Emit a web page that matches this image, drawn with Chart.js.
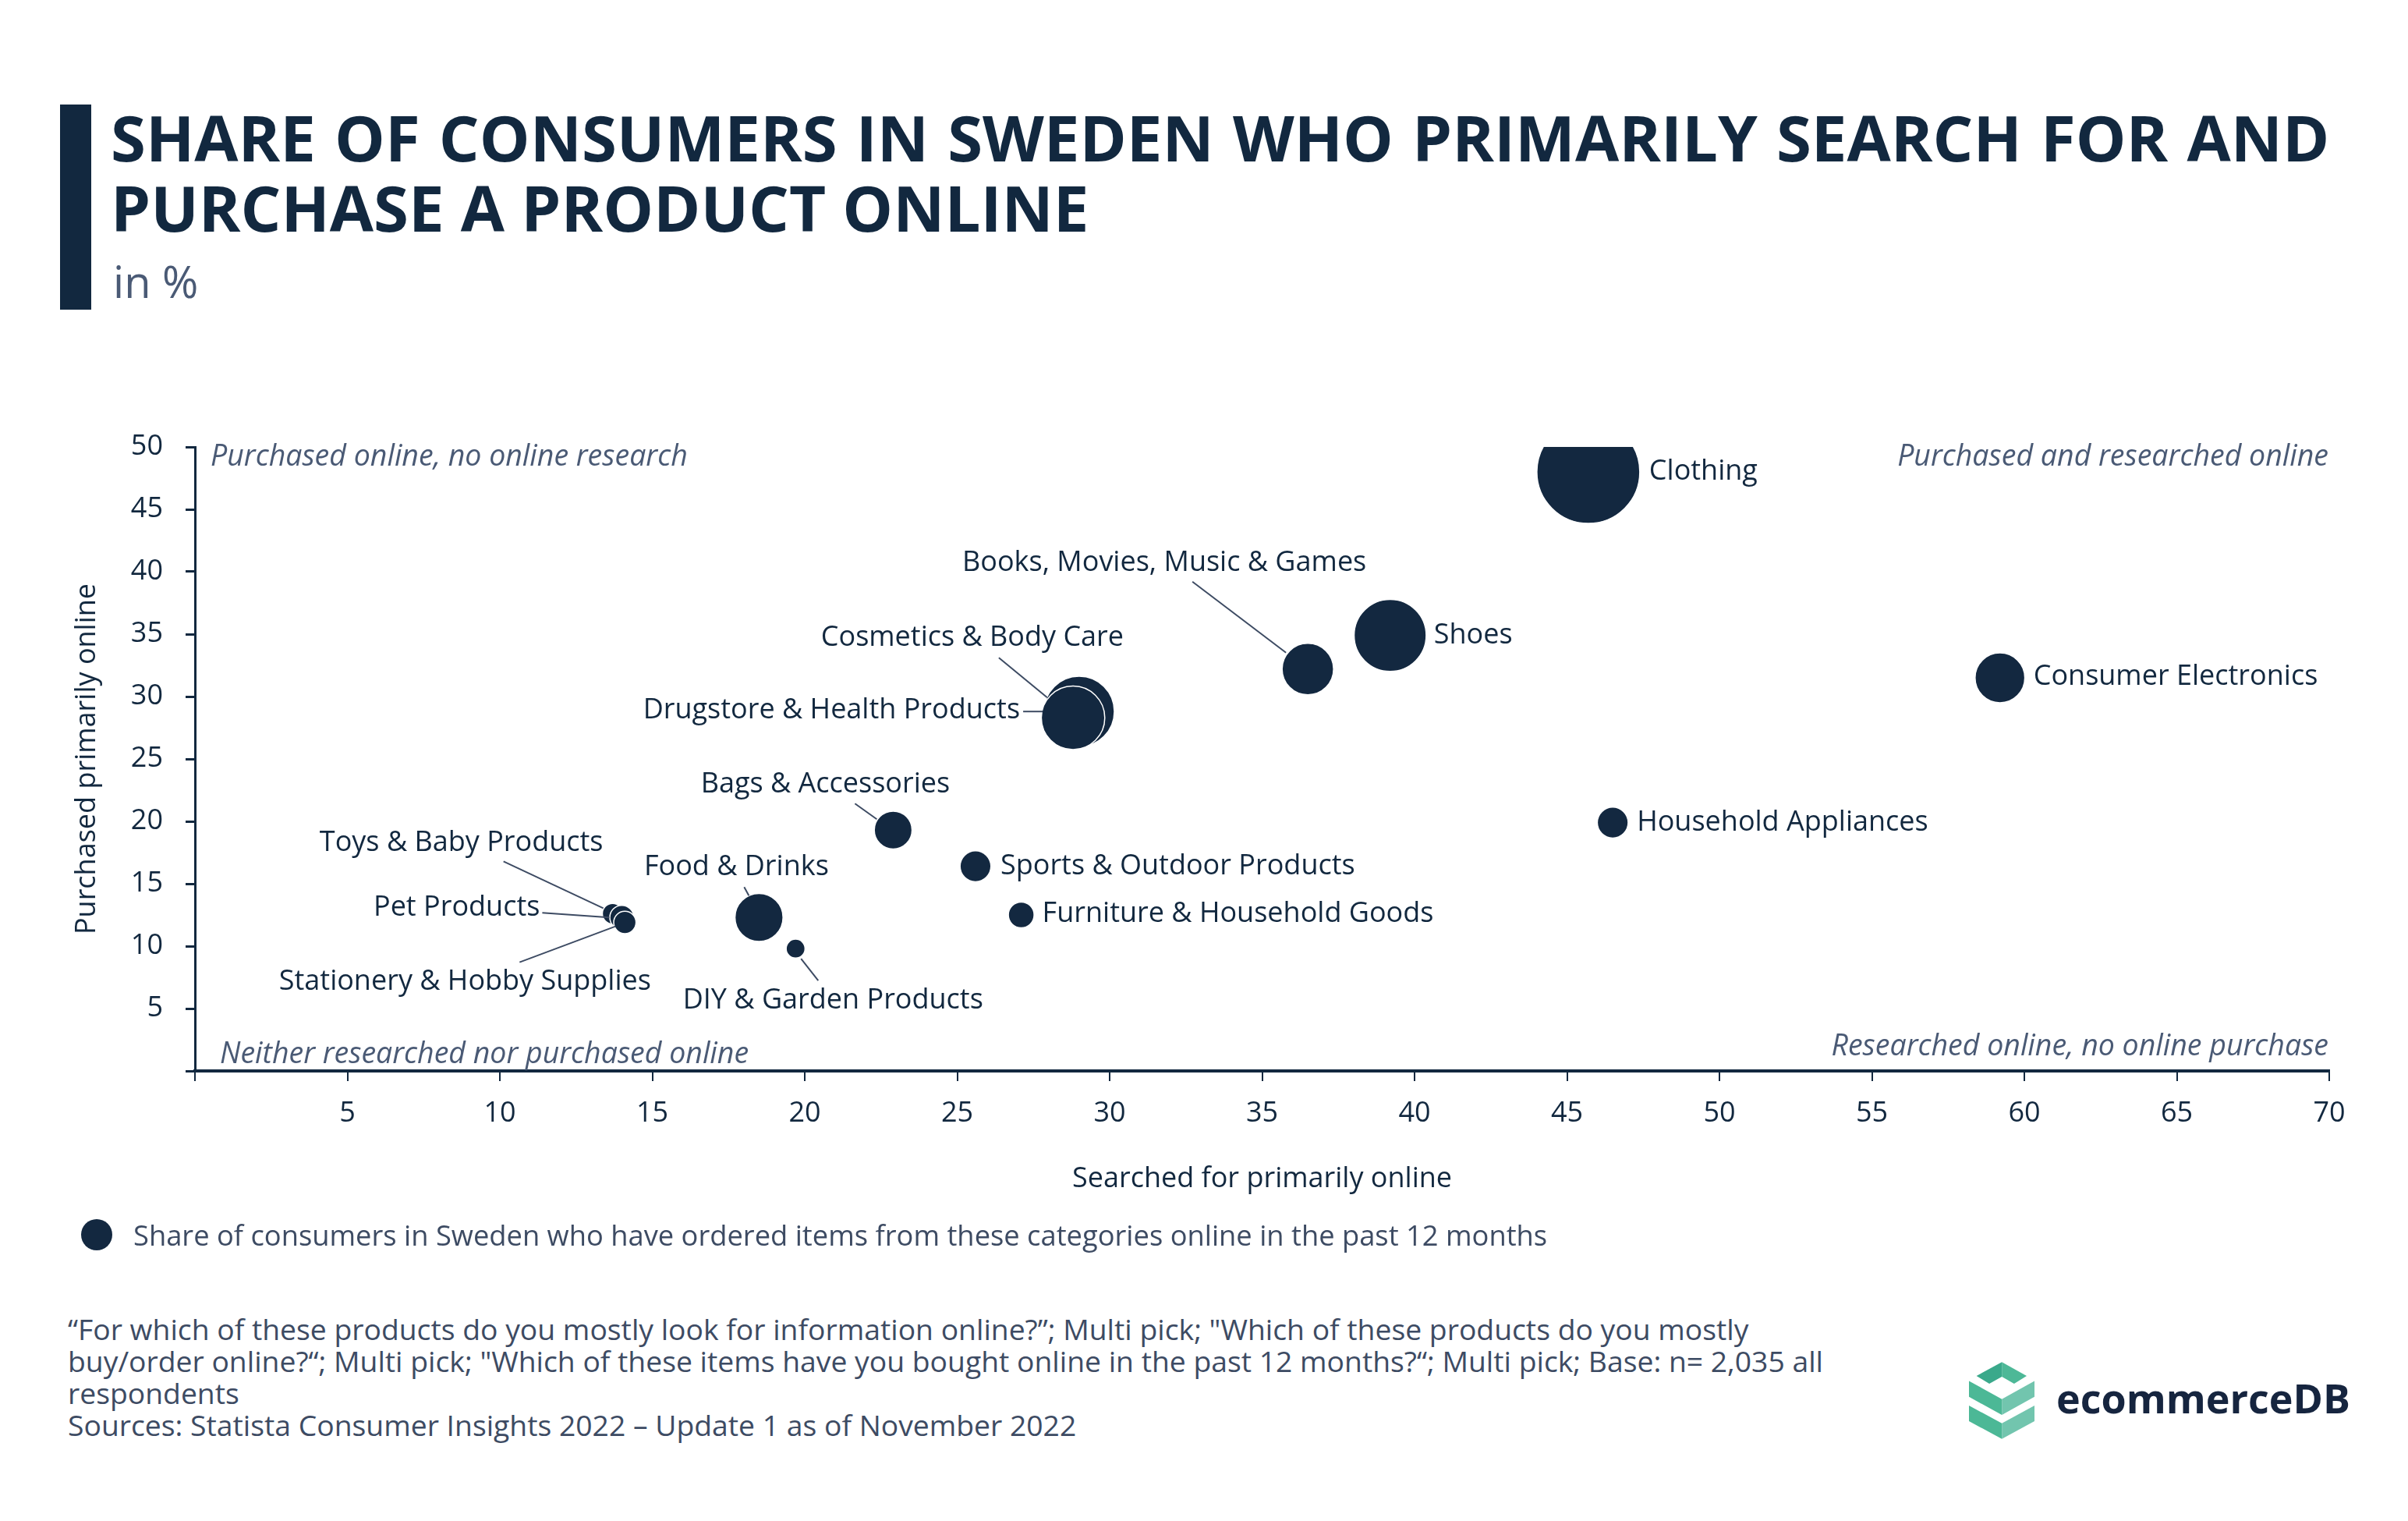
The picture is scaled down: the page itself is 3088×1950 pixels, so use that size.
<!DOCTYPE html>
<html>
<head>
<meta charset="utf-8">
<script src="https://cdn.jsdelivr.net/npm/chart.js@4.4.0/dist/chart.umd.min.js"></script>
<style>
  body { margin: 0; width: 3088px; height: 1950px; background: #fff; position: relative; overflow: hidden; font-family: 'Open Sans', sans-serif; }
  .bar { position: absolute; left: 77px; top: 134px; width: 40px; height: 263px; background: #12283f; }
  .title { position: absolute; left: 142px; top: 131px; font-size: 81.5px; line-height: 90px; font-weight: 700; color: #12283f; white-space: nowrap; }
  .title .wide { word-spacing: 3px; }
  .unit { position: absolute; left: 145px; top: 332px; font-size: 56px; line-height: 56px; color: #4a5a75; }
  #chart { position: absolute; left: 0; top: 480px; }
  .legend { position: absolute; left: 104px; top: 1561px; height: 44px; display: flex; align-items: center; font-size: 36.3px; color: #3d4b63; }
  .legend .dot { width: 40px; height: 40px; border-radius: 50%; background: #132840; margin-right: 27px; flex: none; }
  .notes { position: absolute; left: 87px; top: 1683px; font-size: 37.3px; line-height: 41px; color: #3d4b63; white-space: nowrap; }
  .logo { position: absolute; left: 2525px; top: 1746px; }
  .logo-text { position: absolute; left: 2637px; top: 1766px; font-size: 52px; line-height: 52px; font-weight: 700; color: #16253f; }
</style>
</head>
<body>
<div class="bar"></div>
<div class="title"><span class="wide">SHARE OF CONSUMERS IN SWEDEN WHO PRIMARILY SEARCH FOR AND</span><br>PURCHASE A PRODUCT ONLINE</div>
<div class="unit">in %</div>

<canvas id="chart" width="3088" height="1080"></canvas>

<div class="legend"><span class="dot"></span>Share of consumers in Sweden who have ordered items from these categories online in the past 12 months</div>

<div class="notes">“For which of these products do you mostly look for information online?”; Multi pick; "Which of these products do you mostly<br>buy/order online?“; Multi pick; "Which of these items have you bought online in the past 12 months?“; Multi pick; Base: n= 2,035 all<br>respondents<br>Sources: Statista Consumer Insights 2022 – Update 1 as of November 2022</div>

<svg class="logo" width="84" height="99" viewBox="0 0 235 276">
  <polygon points="27,50 118,0 118,53 73,78" fill="#3aa98b"/>
  <polygon points="118,0 207,50 162,78 118,53" fill="#4db897"/>
  <polygon points="0,68 118,133 118,190 0,125" fill="#4cb896"/>
  <polygon points="118,133 235,68 235,125 118,190" fill="#72c5ae"/>
  <polygon points="0,156 118,220 118,276 0,212" fill="#4cb896"/>
  <polygon points="118,220 235,156 235,212 118,276" fill="#72c5ae"/>
</svg>
<div class="logo-text">ecommerceDB</div>

<script>
const categories = ['Clothing', 'Shoes', 'Books, Movies, Music & Games', 'Consumer Electronics',
  'Cosmetics & Body Care', 'Drugstore & Health Products', 'Household Appliances', 'Bags & Accessories',
  'Sports & Outdoor Products', 'Furniture & Household Goods', 'Food & Drinks', 'DIY & Garden Products',
  'Toys & Baby Products', 'Pet Products', 'Stationery & Hobby Supplies']
const searchedOnline = [45.7, 39.2, 36.5, 59.2, 29.0, 28.8, 46.5, 22.9, 25.6, 27.1, 18.5, 19.7, 13.7, 14.0, 14.1]
const purchasedOnline = [48.0, 34.9, 32.2, 31.5, 28.8, 28.3, 19.9, 19.3, 16.4, 12.5, 12.3, 9.8, 12.6, 12.3, 11.9]
const orderedPast12m = [60, 42, 30, 29, 41, 37, 18, 22, 18, 15, 28, 11, 12, 14, 13]
const xTicks = [0, 5, 10, 15, 20, 25, 30, 35, 40, 45, 50, 55, 60, 65, 70]
const yTicks = [0, 5, 10, 15, 20, 25, 30, 35, 40, 45, 50]

const navy = '#12283f'
const slate = '#3d4b63'
const font = "'Open Sans'"

// label placement, pixels from the bubble centre
const labelLayout = [
  { dx: 78, dy: 0, align: 'left' },
  { dx: 56, dy: 0, align: 'left' },
  { dx: -184, dy: -136, align: 'center', leader: [-148, -112, -28, -21] },
  { dx: 43, dy: -1, align: 'left' },
  { dx: -137, dy: -94, align: 'center', leader: [-103, -69, -41, -18] },
  { dx: -68, dy: -9, align: 'right', leader: [-64, -8, -39, -8] },
  { dx: 31, dy: 0, align: 'left' },
  { dx: -87, dy: -58, align: 'center', leader: [-49, -34, -21, -14] },
  { dx: 32, dy: 0, align: 'left' },
  { dx: 27, dy: -1, align: 'left' },
  { dx: -29, dy: -64, align: 'center', leader: [-19, -39, -13, -28] },
  { dx: 48, dy: 67, align: 'center', leader: [7, 13, 29, 41] },
  { dx: -194, dy: -91, align: 'center', leader: [-140, -67, -12, -7] },
  { dx: -105, dy: -12, align: 'right', leader: [-102, -6, -16, 0] },
  { dx: -205, dy: 76, align: 'center', leader: [-135, 51, -12, 5] }
]

const bubbleLabels = {
  id: 'bubbleLabels',
  afterDatasetsDraw(chart) {
    const { ctx, chartArea } = chart
    const points = chart.getDatasetMeta(0).data
    ctx.save()
    ctx.textBaseline = 'middle'
    points.forEach((pt, i) => {
      const lay = labelLayout[i]
      if (lay.leader) {
        ctx.strokeStyle = slate
        ctx.lineWidth = 2
        ctx.beginPath()
        ctx.moveTo(pt.x + lay.leader[0], pt.y + lay.leader[1])
        ctx.lineTo(pt.x + lay.leader[2], pt.y + lay.leader[3])
        ctx.stroke()
      }
      ctx.font = `36px ${font}`
      ctx.fillStyle = navy
      ctx.textAlign = lay.align
      ctx.fillText(categories[i], pt.x + lay.dx, pt.y + lay.dy)
    })

    // quadrant captions
    ctx.font = `italic 37.5px ${font}`
    ctx.fillStyle = '#4a5a75'
    ctx.textAlign = 'left'
    ctx.fillText('Purchased online, no online research', chartArea.left + 20, chartArea.top + 13)
    ctx.fillText('Neither researched nor purchased online', chartArea.left + 32, chartArea.bottom - 21)
    ctx.textAlign = 'right'
    ctx.fillText('Purchased and researched online', chartArea.right - 1, chartArea.top + 13)
    ctx.fillText('Researched online, no online purchase', chartArea.right - 1, chartArea.bottom - 31)
    ctx.restore()
  }
}

new Chart(document.getElementById('chart'), {
  type: 'bubble',
  data: {
    datasets: [{
      data: categories.map((c, i) => ({ x: searchedOnline[i], y: purchasedOnline[i], r: orderedPast12m[i] * 1.1 })),
      backgroundColor: '#132840',
      borderColor: '#ffffff',
      borderWidth: 1.5,
      clip: 0
    }]
  },
  options: {
    responsive: false,
    devicePixelRatio: 1,
    animation: false,
    events: [],
    layout: { padding: { top: 93, right: 101, left: 0, bottom: 0 } },
    plugins: { legend: { display: false }, tooltip: { enabled: false } },
    scales: {
      x: {
        type: 'linear',
        min: xTicks[0],
        max: xTicks[xTicks.length - 1],
        afterFit: s => { s.height = 187 },
        afterBuildTicks: s => { s.ticks = xTicks.map(v => ({ value: v })) },
        ticks: {
          padding: 20, color: navy, autoSkip: false, maxRotation: 0,
          font: { family: font, size: 36 },
          callback: v => v === 0 ? '' : v
        },
        grid: { drawOnChartArea: false, drawTicks: true, tickLength: 13, color: navy, lineWidth: 2 },
        border: { color: navy, width: 4 },
        title: {
          display: true, text: 'Searched for primarily online', color: navy,
          font: { family: font, size: 36 }, padding: { top: 0, bottom: 27 }
        }
      },
      y: {
        type: 'linear',
        min: yTicks[0],
        max: yTicks[yTicks.length - 1],
        afterFit: s => { s.width = 250 },
        afterBuildTicks: s => { s.ticks = yTicks.map(v => ({ value: v })) },
        ticks: {
          padding: 29, color: navy, autoSkip: false,
          font: { family: font, size: 36 },
          callback: v => v === 0 ? '' : v
        },
        grid: { drawOnChartArea: false, drawTicks: true, tickLength: 12, color: navy, lineWidth: 3 },
        border: { color: navy, width: 3 },
        title: {
          display: true, text: 'Purchased primarily online', color: navy,
          font: { family: font, size: 36 }, padding: { top: 90, bottom: 0 }
        }
      }
    }
  },
  plugins: [bubbleLabels]
})
</script>
</body>
</html>
